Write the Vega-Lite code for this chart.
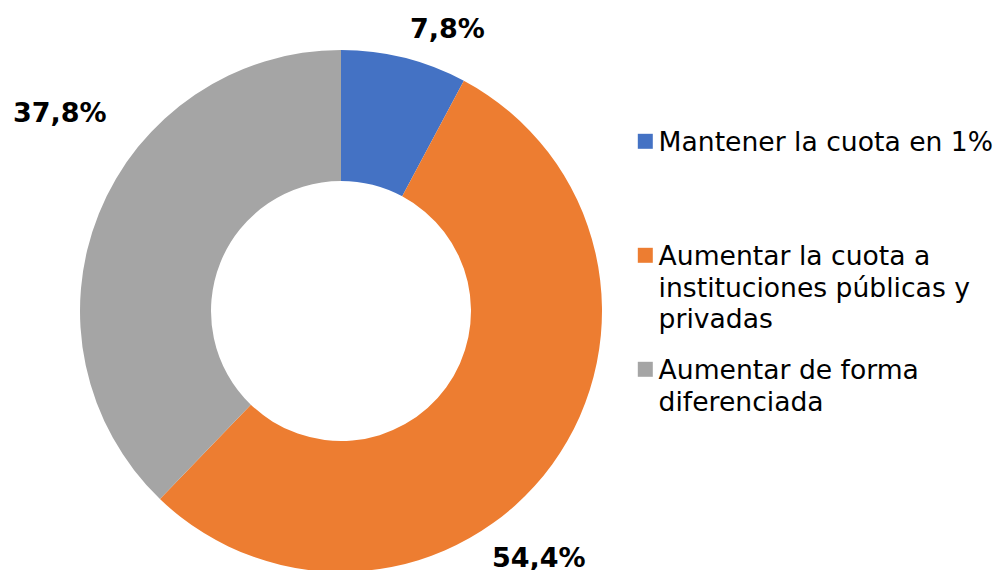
{
  "$schema": "https://vega.github.io/schema/vega-lite/v6.json",
  "width": 522,
  "height": 522,
  "autosize": {"type": "none"},
  "padding": {"left": 80, "top": 50, "right": 396, "bottom": 0},
  "background": "white",
  "config": {
    "view": {"stroke": null},
    "locale": {"number": {"decimal": ",", "thousands": ".", "grouping": [3], "currency": ["", " €"]}}
  },
  "data": {
    "values": [
      {"opcion": "Mantener la cuota en 1%", "proporcion": 0.078, "orden": 1},
      {"opcion": "Aumentar la cuota a instituciones públicas y privadas", "proporcion": 0.544, "orden": 2},
      {"opcion": "Aumentar de forma diferenciada", "proporcion": 0.378, "orden": 3}
    ]
  },
  "encoding": {
    "theta": {"field": "proporcion", "type": "quantitative", "stack": true},
    "order": {"field": "orden", "type": "quantitative"}
  },
  "layer": [
    {
      "mark": {"type": "arc", "innerRadius": 130},
      "encoding": {
        "color": {
          "field": "opcion",
          "type": "nominal",
          "scale": {
            "domain": ["Mantener la cuota en 1%", "Aumentar la cuota a instituciones públicas y privadas", "Aumentar de forma diferenciada"],
            "range": ["#4472C4", "#ED7D31", "#A5A5A5"]
          },
          "legend": {
            "orient": "none",
            "legendX": 552,
            "legendY": 78,
            "title": null,
            "symbolType": "square",
            "symbolSize": 225,
            "symbolStrokeWidth": 0,
            "labelFont": "DejaVu Sans",
            "labelFontSize": 26.6,
            "labelColor": "#000000",
            "labelLimit": 400,
            "labelOffset": 0,
            "labelBaseline": "alphabetic",
            "rowPadding": 22,
            "labelExpr": "datum.label == 'Mantener la cuota en 1%' ? ['Mantener la cuota en 1%', '', ''] : datum.label == 'Aumentar de forma diferenciada' ? ['Aumentar de forma', 'diferenciada', ''] : ['Aumentar la cuota a', 'instituciones públicas y', 'privadas']",
            "encode": {"labels": {"update": {"lineHeight": {"value": 31.5}, "dy": {"value": 10}}}}
          }
        }
      }
    },
    {
      "mark": {"type": "text", "radius": 290, "dx": 36, "dy": 0, "font": "DejaVu Sans", "fontSize": 27, "fontWeight": "bold", "align": "center", "baseline": "middle", "color": "#000000"},
      "encoding": {
        "detail": {"field": "opcion", "type": "nominal"},
        "text": {"condition": {"test": "datum.orden == 1", "field": "proporcion", "type": "quantitative", "format": ".1%"}, "value": ""}
      }
    },
    {
      "mark": {"type": "text", "radius": 300, "dx": -45, "dy": 72, "font": "DejaVu Sans", "fontSize": 27, "fontWeight": "bold", "align": "center", "baseline": "middle", "color": "#000000"},
      "encoding": {
        "detail": {"field": "opcion", "type": "nominal"},
        "text": {"condition": {"test": "datum.orden == 2", "field": "proporcion", "type": "quantitative", "format": ".1%"}, "value": ""}
      }
    },
    {
      "mark": {"type": "text", "radius": 300, "dx": -3, "dy": -85, "font": "DejaVu Sans", "fontSize": 27, "fontWeight": "bold", "align": "center", "baseline": "middle", "color": "#000000"},
      "encoding": {
        "detail": {"field": "opcion", "type": "nominal"},
        "text": {"condition": {"test": "datum.orden == 3", "field": "proporcion", "type": "quantitative", "format": ".1%"}, "value": ""}
      }
    }
  ]
}
